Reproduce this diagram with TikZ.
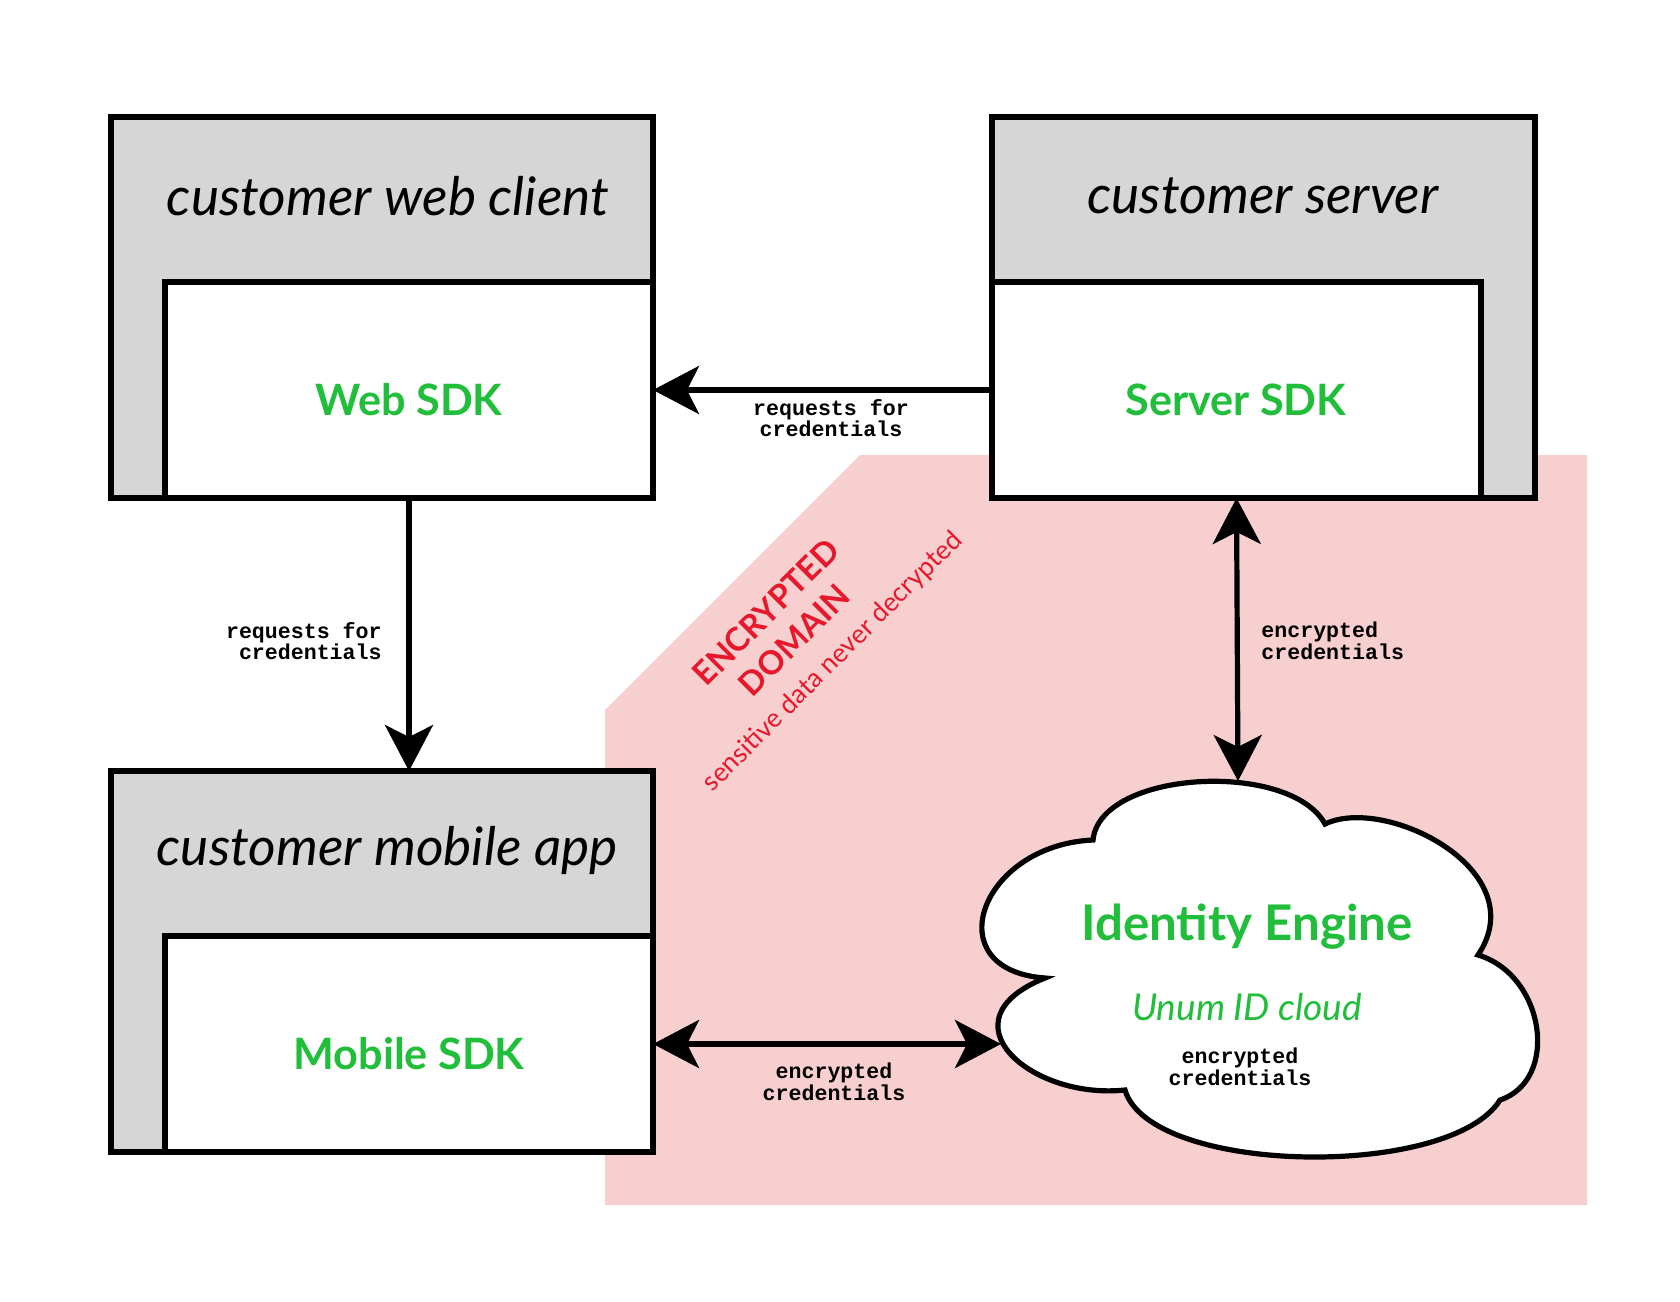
\documentclass[tikz,border=0pt]{standalone}
\usepackage{fontspec}
\setmainfont{Lato}
\setmonofont{Liberation Mono}
\usetikzlibrary{arrows.meta}
\definecolor{sdkgreen}{RGB}{32,190,58}
\definecolor{domred}{RGB}{232,24,44}
\definecolor{dompink}{RGB}{247,207,206}
\definecolor{hdrgrey}{RGB}{214,214,214}
\tikzset{
  outerbox/.style={draw,line width=2.6pt,fill=hdrgrey,anchor=north west,inner sep=0pt,outer sep=0pt,minimum width=271pt,minimum height=190.5pt},
  innerbox/.style={draw,line width=2.6pt,fill=white,anchor=north west,inner sep=0pt,outer sep=0pt,minimum width=244pt,minimum height=108pt},
  title/.style={font=\itshape\fontsize{26.6}{32}\selectfont,inner sep=0pt},
  sdk/.style={font=\bfseries\fontsize{21.6}{26}\selectfont,text=sdkgreen,inner sep=0pt},
  lbl/.style={font=\ttfamily\bfseries\fontsize{10.8}{10.8}\selectfont,inner sep=0pt},
  tipx/.tip={Stealth[length=23pt,width=24pt,inset=6pt]},
  arr/.style={line width=2.6pt,-tipx},
  dbl/.style={line width=2.6pt,tipx-tipx},
}
\begin{document}
\begin{tikzpicture}[x=0.5pt,y=-0.5pt]
\useasboundingbox (0,0) rectangle (1680,1301);
% encrypted domain
\fill[dompink] (605,710) -- (860,455) -- (1587,455) -- (1587,1205) -- (605,1205) -- cycle;
% boxes
\node[outerbox] (webout) at (111,117) {};
\node[innerbox] (webin) at (165,282) {};
\node[outerbox,minimum width=271.5pt] (srvout) at (992,117) {};
\node[innerbox,minimum width=244.5pt] (srvin) at (992,282) {};
\node[outerbox] (mobout) at (111,771) {};
\node[innerbox] (mobin) at (165,936) {};
% cloud
\coordinate (c1) at (1093,840);
\coordinate (c2) at (1325,824);
\coordinate (c3) at (1478,955);
\coordinate (c4) at (1500,1100);
\coordinate (c5) at (1125,1090);
\coordinate (c6) at (1045,978);
\draw[line width=2.6pt,fill=white,line join=miter]
  (c1) .. controls (1100,770) and (1290,760) .. (c2)
       .. controls (1385,795) and (1535,870) .. (c3)
       .. controls (1545,975) and (1560,1080) .. (c4)
       .. controls (1450,1180) and (1150,1175) .. (c5)
       .. controls (1030,1100) and (940,1020) .. (c6)
       .. controls (935,970) and (980,845) .. cycle;
\coordinate (cloudtop) at (1238,781);
\coordinate (cloudleft) at (1001,1044);
% texts
\node[title] (t1) at (388,196) {customer web client};
\node[title] (t2) at (1263,196) {customer server};
\node[title] (t3) at (387,850) {customer mobile app};
\node[sdk] (s1) at (409,400) {Web SDK};
\node[sdk] (s2) at (1236,400) {Server SDK};
\node[sdk] (s3) at (409,1054) {Mobile SDK};
\node[sdk,font=\bfseries\fontsize{24.6}{30}\selectfont] (ie) at (1247,927) {Identity Engine};
\node[font=\itshape\fontsize{18.5}{22}\selectfont,text=sdkgreen,inner sep=0pt] (uc) at (1247,1007) {Unum ID cloud};
\node[font=\bfseries\fontsize{16.4}{20}\selectfont,text=domred,align=center,rotate=45,inner sep=0pt] (ed) at (780,626) {ENCRYPTED\\DOMAIN};
\node[font=\fontsize{13.2}{15}\selectfont,text=domred,rotate=45,inner sep=0pt] (sd) at (833,662) {sensitive data never decrypted};
% connectors
\draw[arr] (srvin.west) -- (webin.east);
\draw[arr] (webin.south) -- (mobout.north -| webin.south);
\draw[dbl] (srvin.south) -- (cloudtop);
\draw[dbl] (mobin.east) -- (cloudleft);
% labels
\node[lbl,align=center] (la) at (831,418) {requests for\\credentials};
\node[lbl,align=right,anchor=east] (lb) at (382,641) {requests for\\credentials};
\node[lbl,align=left,anchor=west] (lc) at (1261,641) {encrypted\\credentials};
\node[lbl,align=center] (ld) at (834,1082) {encrypted\\credentials};
\node[lbl,align=center] (le) at (1240,1067) {encrypted\\credentials};
\end{tikzpicture}
\end{document}
